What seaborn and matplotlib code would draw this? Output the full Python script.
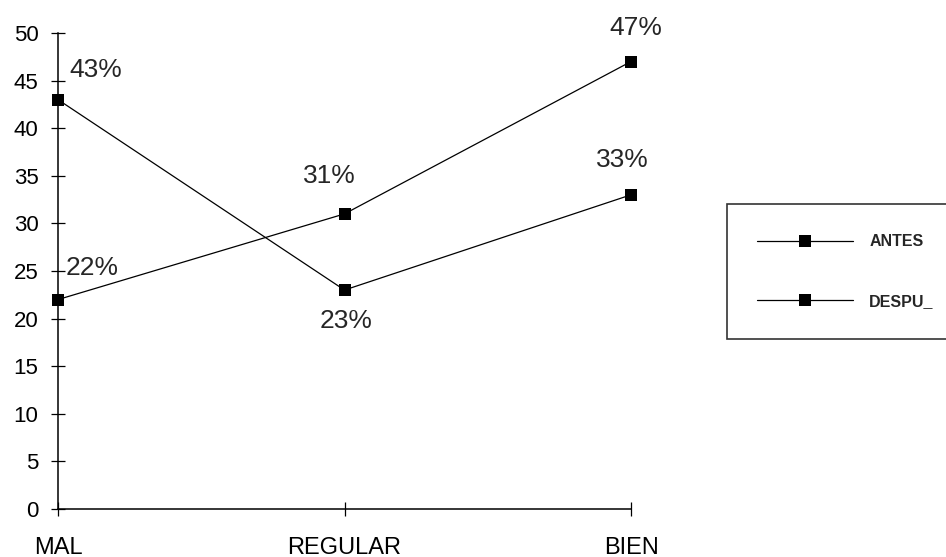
import pandas as pd
import matplotlib.pyplot as plt
import seaborn as sns
from matplotlib.lines import Line2D

categorias = ['MAL', 'REGULAR', 'BIEN']
antes = [43, 23, 33]
despues = [22, 31, 47]
series = ['ANTES', 'DESPU_']

df = pd.DataFrame({
    'categoria': categorias * 2,
    'x': list(range(len(categorias))) * 2,
    'valor': antes + despues,
    'serie': [series[0]] * 3 + [series[1]] * 3,
})

sns.set_style('white')
plt.rcParams['font.family'] = ['Liberation Sans', 'DejaVu Sans']

fig = plt.figure(figsize=(9.46, 5.57), dpi=100)
ax = fig.add_axes([58 / 946, 1 - 509 / 557, 573 / 946, 476 / 557])

sns.lineplot(data=df, x='x', y='valor', hue='serie', palette=['black', 'black'],
             style='serie', markers=['s', 's'], dashes=False, markersize=8,
             markeredgewidth=0, linewidth=0.9, ax=ax, legend=False, clip_on=False)

# etiquetas de porcentaje (desplazamiento en puntos)
offsets = {
    ('ANTES', 0): (8.5, 21, 'left'), ('ANTES', 1): (1, -22, 'center'), ('ANTES', 2): (-6, 25, 'center'),
    ('DESPU_', 0): (5.5, 23, 'left'), ('DESPU_', 1): (-11, 27, 'center'), ('DESPU_', 2): (3.5, 24, 'center'),
}
for _, r in df.iterrows():
    dx, dy, ha = offsets[(r['serie'], r['x'])]
    ax.annotate(f"{r['valor']}%", (r['x'], r['valor']), xytext=(dx, dy),
                textcoords='offset points', fontsize=19, ha=ha, va='center')

ax.set_xlim(0, 2)
ax.set_ylim(0, 50)
ax.set_yticks(range(0, 51, 5))
ax.set_xticks(range(3))
ax.set_xticklabels(categorias)
ax.set_xlabel('')
ax.set_ylabel('')
ax.tick_params(axis='both', which='major', bottom=True, left=True, direction='inout',
               length=10, width=0.9, colors='black')
ax.tick_params(axis='y', pad=9, labelsize=16)
ax.tick_params(axis='x', pad=15, labelsize=17)
sns.despine(ax=ax)
for s in ['left', 'bottom']:
    ax.spines[s].set_linewidth(1.1)
    ax.spines[s].set_color('black')

handles = [Line2D([], [], color='black', marker='s', markersize=8, markeredgewidth=0,
                  linewidth=0.9) for _ in series]
leg = fig.legend(handles, series, loc='upper left', bbox_to_anchor=(727 / 946, 1 - 204 / 557),
                 frameon=True, fancybox=False, edgecolor='black', handlelength=6.0,
                 handletextpad=1.0, labelspacing=2.8, borderpad=1.9, borderaxespad=0,
                 prop={'size': 11.5, 'weight': 'bold'})
leg.get_frame().set_linewidth(1.2)

fig.savefig('out.png', dpi=100)
